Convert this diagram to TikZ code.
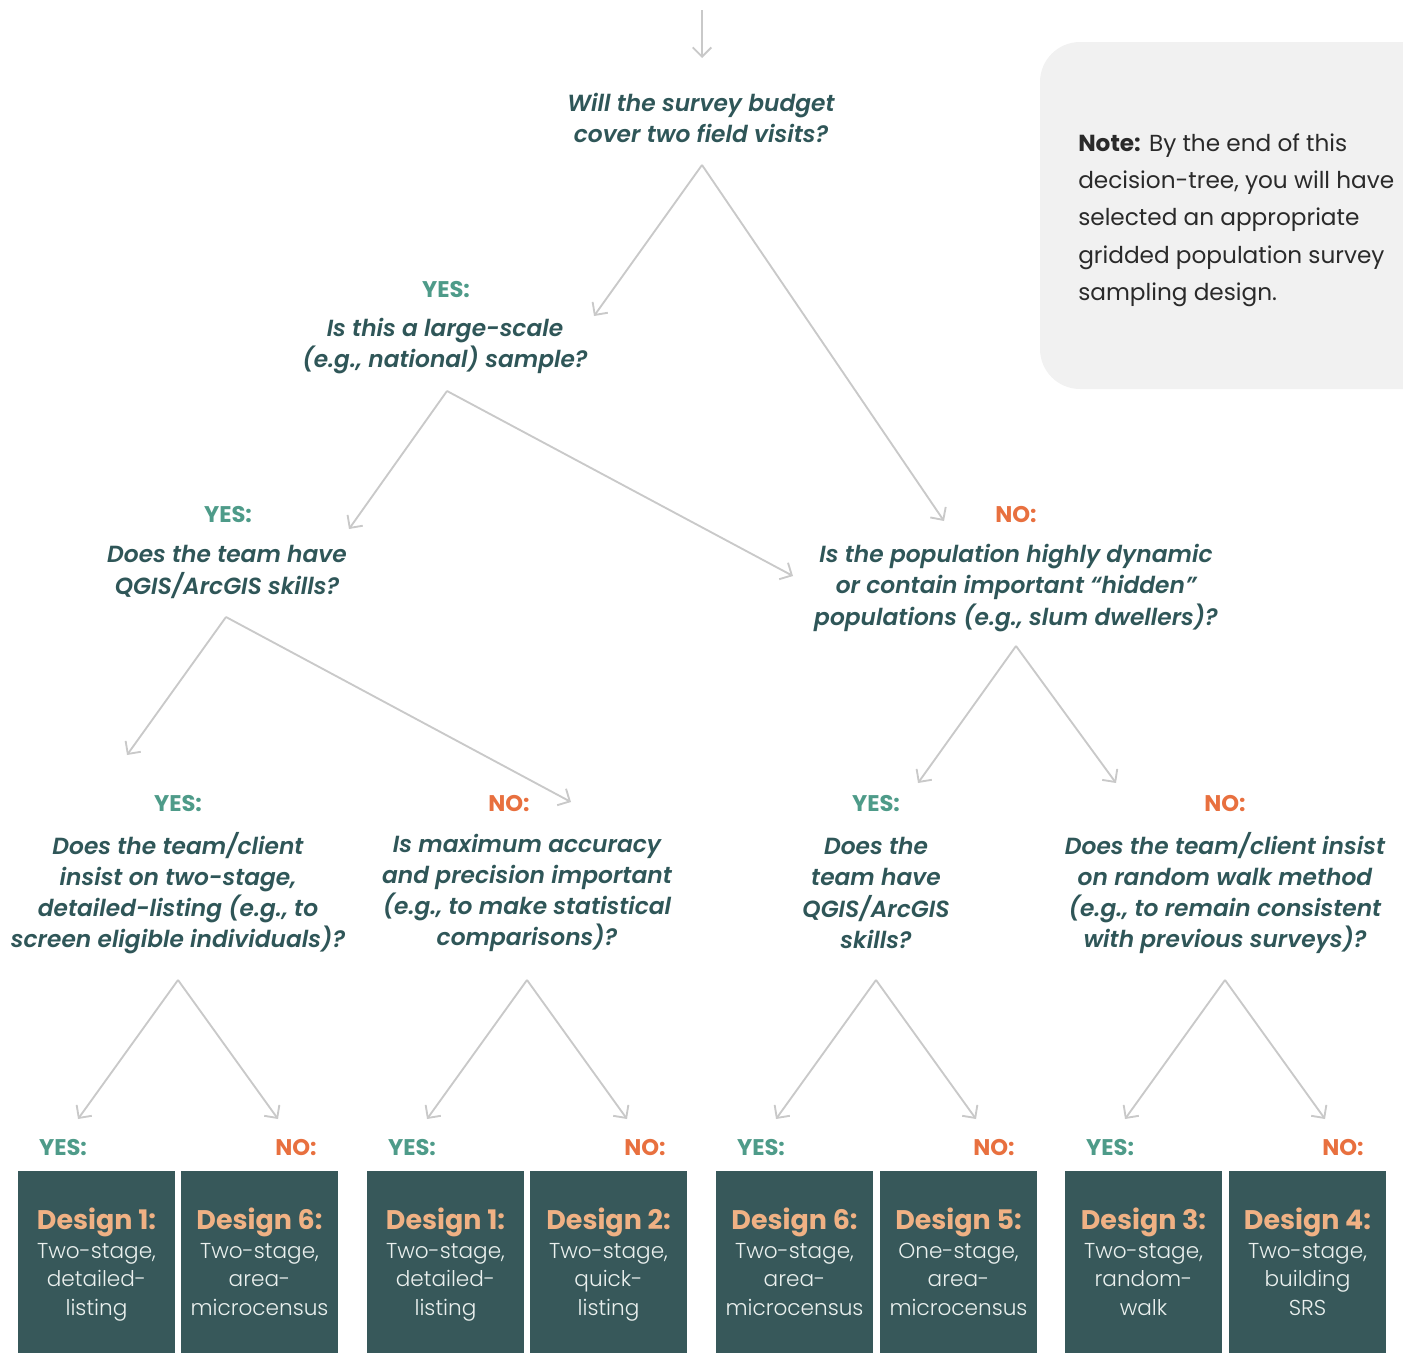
\documentclass[tikz,border=0pt]{standalone}
\usepackage{fontspec}
\usetikzlibrary{arrows.meta}
\setmainfont{Poppins}
\IfFontExistsTF{Poppins Light}{\newfontfamily\lightfont{Poppins Light}}{\newfontfamily\lightfont{Poppins}}
\IfFontExistsTF{Poppins SemiBold Italic}{\newfontfamily\qfont{Poppins SemiBold Italic}}{\newfontfamily\qfont{Poppins}[UprightFont=*,UprightFeatures={FakeSlant=0.2}]}
\definecolor{qcol}{HTML}{2F5658}
\definecolor{yescol}{HTML}{4E9B89}
\definecolor{nocol}{HTML}{E8703F}
\definecolor{boxfill}{HTML}{37585A}
\definecolor{titlecol}{HTML}{F0B184}
\definecolor{boxtext}{HTML}{EAF0EE}
\definecolor{arrowcol}{HTML}{C9C9C9}
\definecolor{notefill}{HTML}{F1F1F1}
\definecolor{notetext}{HTML}{2A2A2A}
\begin{document}
\begin{tikzpicture}[x=0.75pt,y=-0.75pt,
  question/.style={text=qcol, align=center, inner sep=0pt,
    font=\qfont\fontsize{17.5}{23.4}\selectfont},
  yeslbl/.style={text=yescol, inner sep=0pt, font=\bfseries\fontsize{17}{19}\selectfont},
  nolbl/.style={text=nocol, inner sep=0pt, font=\bfseries\fontsize{17}{19}\selectfont},
  link/.style={draw=arrowcol, line width=1.4pt,
    -{Straight Barb[length=7pt,width=14pt,line width=1.4pt]}},
  design/.style={fill=boxfill, text=boxtext, align=center, inner sep=0pt,
    minimum width=117.75pt, minimum height=140.25pt,
    font=\lightfont\fontsize{16.2}{21.4}\selectfont}]
\useasboundingbox (0,0) rectangle (1403,1353);

% note panel on the right
\begin{scope}
  \clip (0,0) rectangle (1403,1353);
  \fill[notefill, rounded corners=30pt] (1040,42) rectangle (1480,389);
\end{scope}
\node[anchor=west, align=left, inner sep=0pt, text=notetext,
  font=\fontsize{17.4}{28}\selectfont] (note) at (1078,220)
  {\textbf{Note:} By the end of this\\decision-tree, you will have\\selected an appropriate\\gridded population survey\\sampling design.};

% questions
\node[question] (q1) at (701,118) {Will the survey budget\\cover two field visits?};
\node[yeslbl] (y1) at (446,290) {YES:};
\node[question] (q2) at (445,346) {Is this a large-scale\\(e.g., national) sample?};
\node[yeslbl] (y2) at (228,515) {YES:};
\node[question] (q3) at (227,572) {Does the team have\\QGIS/ArcGIS skills?};
\node[nolbl] (n1) at (1016,515) {NO:};
\node[question] (q4) at (1016,588) {Is the population highly dynamic\\or contain important “hidden”\\populations (e.g., slum dwellers)?};
\node[yeslbl] (y3) at (178,804) {YES:};
\node[question] (q5) at (178,893) {Does the team/client\\insist on two-stage,\\detailed-listing (e.g., to\\screen eligible individuals)?};
\node[nolbl] (n2) at (509,804) {NO:};
\node[question] (q6) at (527,893) {Is maximum accuracy\\and precision important\\(e.g., to make statistical\\comparisons)?};
\node[yeslbl] (y4) at (876,804) {YES:};
\node[question] (q7) at (876,893) {Does the\\team have\\QGIS/ArcGIS\\skills?};
\node[nolbl] (n3) at (1225,804) {NO:};
\node[question] (q8) at (1225,893) {Does the team/client insist\\on random walk method\\(e.g., to remain consistent\\with previous surveys)?};

% outcome labels
\node[yeslbl] (ya) at (63,1148) {YES:};   \node[nolbl] (na) at (296,1148) {NO:};
\node[yeslbl] (yb) at (412,1148) {YES:};  \node[nolbl] (nb) at (645,1148) {NO:};
\node[yeslbl] (yc) at (761,1148) {YES:};  \node[nolbl] (nc) at (994,1148) {NO:};
\node[yeslbl] (yd) at (1110,1148) {YES:}; \node[nolbl] (nd) at (1343,1148) {NO:};

% design boxes (run past the lower page edge; last line padded to a common depth)
\newcommand\dtitle[1]{{\color{titlecol}\fontspec{Poppins}\bfseries\fontsize{20.2}{21.4}\selectfont #1}}
\newcommand\dlast[1]{#1\vphantom{g}}
\node[design] (d1) at (96.5,1264.5)  {\dtitle{Design 1:}\\Two-stage,\\detailed-\\\dlast{listing}};
\node[design] (d2) at (259.5,1264.5) {\dtitle{Design 6:}\\Two-stage,\\area-\\\dlast{microcensus}};
\node[design] (d3) at (445.5,1264.5) {\dtitle{Design 1:}\\Two-stage,\\detailed-\\\dlast{listing}};
\node[design] (d4) at (608.5,1264.5) {\dtitle{Design 2:}\\Two-stage,\\quick-\\\dlast{listing}};
\node[design] (d5) at (794.5,1264.5) {\dtitle{Design 6:}\\Two-stage,\\area-\\\dlast{microcensus}};
\node[design] (d6) at (958.5,1264.5) {\dtitle{Design 5:}\\One-stage,\\area-\\\dlast{microcensus}};
\node[design] (d7) at (1143.5,1264.5){\dtitle{Design 3:}\\Two-stage,\\random-\\\dlast{walk}};
\node[design] (d8) at (1307.5,1264.5){\dtitle{Design 4:}\\Two-stage,\\building\\\dlast{SRS}};

% connector end points
\coordinate (s0) at (702,10);   \coordinate (e0) at (702,58);
\coordinate (a1) at (702,165);  \coordinate (e1l) at (594,316);  \coordinate (e1r) at (944,521);
\coordinate (a2) at (447,391);  \coordinate (e2l) at (349,529);  \coordinate (e2r) at (793,576);
\coordinate (a3) at (226,617);  \coordinate (e3l) at (127,755);  \coordinate (e3r) at (571,802);
\coordinate (a4) at (1016,646); \coordinate (e4l) at (918,783);  \coordinate (e4r) at (1116,783);
\coordinate (a5) at (178,980);  \coordinate (e5l) at (78,1119);  \coordinate (e5r) at (278,1119);
\coordinate (a6) at (527,980);  \coordinate (e6l) at (427,1119); \coordinate (e6r) at (627,1119);
\coordinate (a7) at (876,980);  \coordinate (e7l) at (776,1119); \coordinate (e7r) at (976,1119);
\coordinate (a8) at (1225,980); \coordinate (e8l) at (1125,1119);\coordinate (e8r) at (1325,1119);

\draw[link] (s0) -- (e0);
\foreach \i in {1,...,8}{
  \draw[link] (a\i) -- (e\i l);
  \draw[link] (a\i) -- (e\i r);
}
\end{tikzpicture}
\end{document}
